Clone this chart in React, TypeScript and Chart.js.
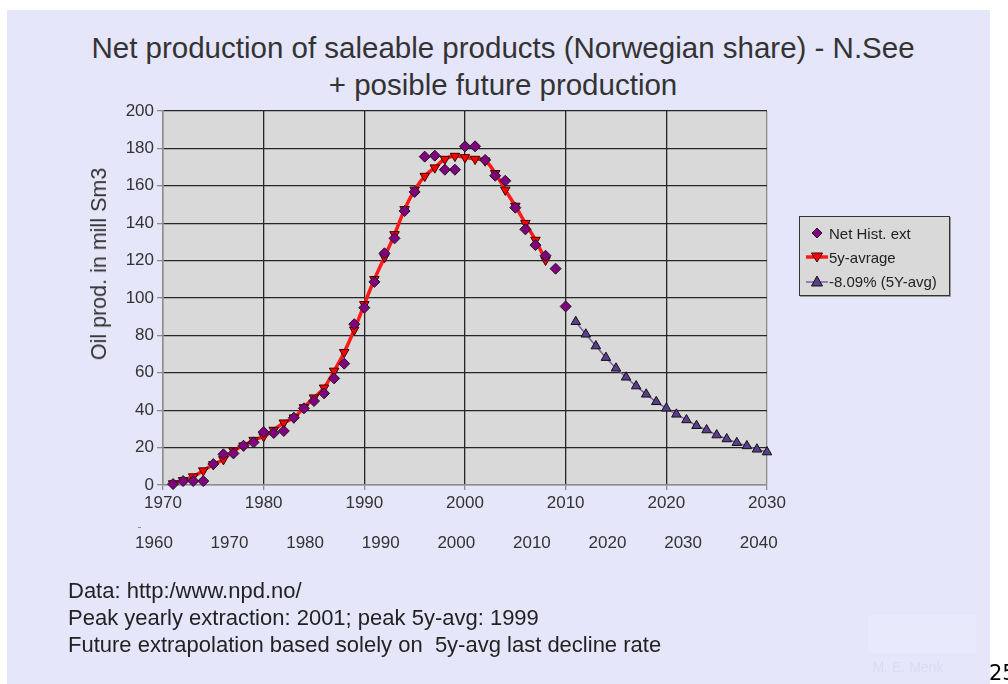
import React, { useEffect, useRef } from "react";
import { Chart, registerables } from "chart.js";

Chart.register(...registerables);

// ---------- data ----------
const histYears = [
  1971, 1972, 1973, 1974, 1975, 1976, 1977, 1978, 1979, 1980,
  1981, 1982, 1983, 1984, 1985, 1986, 1987, 1988, 1989, 1990,
  1991, 1992, 1993, 1994, 1995, 1996, 1997, 1998, 1999, 2000,
  2001, 2002, 2003, 2004, 2005, 2006, 2007, 2008, 2009, 2010,
];
const histValues = [
  0.5, 2.1, 2.1, 2.1, 11.2, 16.4, 16.9, 21, 22.8, 28.3,
  27.8, 28.9, 36, 41, 44.9, 49, 57, 64.9, 86, 94.8,
  108.6, 123.9, 131.9, 146.5, 156.7, 175.6, 176.1, 168.6, 168.6, 181.1,
  181.1, 173.8, 165.4, 162.7, 148.3, 136.7, 128.3, 122.6, 115.7, 95.5,
];

const avgYears = [
  1971, 1972, 1973, 1974, 1975, 1976, 1977, 1978, 1979, 1980,
  1981, 1982, 1983, 1984, 1985, 1986, 1987, 1988, 1989, 1990,
  1991, 1992, 1993, 1994, 1995, 1996, 1997, 1998, 1999, 2000,
  2001, 2002, 2003, 2004, 2005, 2006, 2007, 2008,
];
const avgValues = [
  0.8, 2.5, 4.5, 7.7, 11, 13.7, 18.4, 21, 24, 26,
  29.4, 33.3, 36, 41.5, 46.7, 52, 61, 71, 83, 96.6,
  110, 121.8, 134, 147.4, 157.8, 165.2, 169.7, 174.3, 175.9, 175.2,
  174.3, 173.4, 166.7, 157.8, 149.2, 140, 131, 120.3,
];

const futureYears = [
  2011, 2012, 2013, 2014, 2015, 2016, 2017, 2018, 2019, 2020,
  2021, 2022, 2023, 2024, 2025, 2026, 2027, 2028, 2029, 2030,
];
const futureValues = [
  87.3, 80.6, 74.3, 68.1, 62.4, 57.6, 52.9, 48.5, 44.5, 41,
  37.8, 34.8, 31.7, 29.4, 26.7, 24.6, 22.6, 20.9, 19.1, 17.6,
];

const xTicksMain = [1970, 1980, 1990, 2000, 2010, 2020, 2030];
const xTicksSecond = [1960, 1970, 1980, 1990, 2000, 2010, 2020, 2030, 2040];
const yTicks = [0, 20, 40, 60, 80, 100, 120, 140, 160, 180, 200];

const seriesLabels = ["Net Hist. ext", "5y-avrage", "-8.09% (5Y-avg)"];
const titleLines = [
  "Net production of saleable products (Norwegian share) - N.See",
  "+ posible future production",
];
const yTitle = "Oil prod. in mill Sm3";
const notes = [
  "Data: http:/www.npd.no/",
  "Peak yearly extraction: 2001; peak 5y-avg: 1999",
  "Future extrapolation based solely on  5y-avg last decline rate",
];

const FONT = "'Liberation Sans', Arial, Helvetica, sans-serif";
const GRID_DARK = "#262626";
const AXIS_GRAY = "#8c8c8c";

const plotBg = {
  id: "plotBg",
  beforeDraw(chart: any) {
    const { ctx, chartArea: a } = chart;
    ctx.save();
    ctx.fillStyle = "#d9d9d9";
    ctx.fillRect(a.left, a.top, a.right - a.left, a.bottom - a.top);
    ctx.restore();
  },
};

const toPts = (xs: number[], ys: number[]) => xs.map((x, i) => ({ x, y: ys[i] }));

function ChartCanvas() {
  const ref = useRef<HTMLCanvasElement | null>(null);
  useEffect(() => {
    if (!ref.current) return;
    const chart = new Chart(ref.current, {
      type: "line",
      data: {
        datasets: [
          {
            label: seriesLabels[0],
            data: toPts(histYears, histValues),
            showLine: false,
            pointStyle: "rectRot",
            pointRadius: 5.5,
            pointBackgroundColor: "#800080",
            pointBorderColor: "#1a1a1a",
            pointBorderWidth: 1,
            clip: false,
          },
          {
            label: seriesLabels[1],
            data: toPts(avgYears, avgValues),
            borderColor: "#ff1a1a",
            borderWidth: 3.5,
            tension: 0.4,
            pointStyle: "triangle",
            pointRotation: 180,
            pointRadius: 5.5,
            pointBackgroundColor: "#ff0000",
            pointBorderColor: "#3a0000",
            pointBorderWidth: 1,
            clip: false,
          },
          {
            label: seriesLabels[2],
            data: toPts(futureYears, futureValues),
            borderColor: "#7b62a6",
            borderWidth: 1.5,
            pointStyle: "triangle",
            pointRadius: 5.5,
            pointBackgroundColor: "#5a3e8c",
            pointBorderColor: "#111111",
            pointBorderWidth: 1,
            clip: false,
          },
        ] as any,
      },
      options: {
        animation: false,
        responsive: false,
        devicePixelRatio: 1,
        layout: { padding: { left: 0, right: 241, top: 111, bottom: 124 } },
        plugins: {
          legend: { display: false },
          tooltip: { enabled: false },
          title: { display: false },
        },
        scales: {
          x: {
            type: "linear",
            position: "bottom",
            min: 1970,
            max: 2030,
            afterBuildTicks: (s: any) => {
              s.ticks = xTicksMain.map((v) => ({ value: v }));
            },
            afterFit: (s: any) => {
              s.height = 30;
            },
            grid: {
              color: (c: any) =>
                c.tick && (c.tick.value === 1970 || c.tick.value === 2030) ? AXIS_GRAY : GRID_DARK,
              lineWidth: 1.3,
              drawTicks: true,
              tickLength: 5,
              tickColor: AXIS_GRAY,
            },
            border: { color: AXIS_GRAY, width: 1.5 },
            ticks: {
              font: { family: FONT, size: 17 },
              color: "#333333",
              padding: 3,
              maxRotation: 0,
              autoSkip: false,
              callback: (v: any) => String(v),
            },
          },
          x2: {
            type: "linear",
            position: "bottom",
            min: 1961.2,
            max: 2041.1,
            afterBuildTicks: (s: any) => {
              s.ticks = xTicksSecond.map((v) => ({ value: v }));
            },
            afterFit: (s: any) => {
              s.height = 45;
            },
            grid: { display: false, drawTicks: false },
            border: { display: false },
            ticks: {
              font: { family: FONT, size: 17 },
              color: "#333333",
              padding: 18,
              maxRotation: 0,
              autoSkip: false,
              callback: (v: any) => String(v),
            },
          },
          y: {
            type: "linear",
            min: 0,
            max: 200,
            afterBuildTicks: (s: any) => {
              s.ticks = yTicks.map((v) => ({ value: v }));
            },
            afterFit: (s: any) => {
              s.width = 163;
            },
            grid: {
              color: (c: any) => (c.tick && c.tick.value === 0 ? AXIS_GRAY : GRID_DARK),
              lineWidth: 1.3,
              drawTicks: true,
              tickLength: 6,
              tickColor: AXIS_GRAY,
            },
            border: { color: AXIS_GRAY, width: 1.5 },
            ticks: {
              font: { family: FONT, size: 17 },
              color: "#333333",
              padding: 3,
              autoSkip: false,
              callback: (v: any) => String(v),
            },
          },
        },
      } as any,
      plugins: [plotBg],
    });
    return () => chart.destroy();
  }, []);
  return (
    <canvas
      ref={ref}
      width={1008}
      height={684}
      style={{ position: "absolute", left: 0, top: 0, width: 1008, height: 684 }}
    />
  );
}

function LegendMarker({ kind }: { kind: number }) {
  if (kind === 0) {
    return (
      <svg width={22} height={14} style={{ display: "block" }}>
        <polygon points="11,2 16,7 11,12 6,7" fill="#800080" stroke="#1a1a1a" strokeWidth={1} />
      </svg>
    );
  }
  if (kind === 1) {
    return (
      <svg width={22} height={14} style={{ display: "block" }}>
        <line x1={0} y1={7} x2={22} y2={7} stroke="#ff1a1a" strokeWidth={3.5} />
        <polygon points="5.5,3 16.5,3 11,12" fill="#ff0000" stroke="#3a0000" strokeWidth={1} />
      </svg>
    );
  }
  return (
    <svg width={22} height={14} style={{ display: "block" }}>
      <line x1={0} y1={8} x2={22} y2={8} stroke="#7b62a6" strokeWidth={1.5} />
      <polygon points="11,2 16.5,12 5.5,12" fill="#5a3e8c" stroke="#111" strokeWidth={1} />
    </svg>
  );
}

export default function App() {
  return (
    <div
      style={{
        position: "absolute",
        left: 0,
        top: 0,
        width: 1008,
        height: 684,
        overflow: "hidden",
        background: "#ffffff",
        fontFamily: FONT,
      }}
    >
      <div
        style={{
          position: "absolute",
          left: 7,
          top: 10,
          width: 983,
          height: 674,
          background: "#e6e6fa",
        }}
      />
      {/* title */}
      <div
        style={{
          position: "absolute",
          left: 0,
          top: 29,
          width: 1006,
          textAlign: "center",
          fontSize: 29.5,
          lineHeight: "37px",
          color: "#333333",
          whiteSpace: "nowrap",
        }}
      >
        {titleLines.map((t, i) => (
          <div key={i}>{t}</div>
        ))}
      </div>
      <ChartCanvas />
      {/* small dash above the secondary axis */}
      <div
        style={{
          position: "absolute",
          left: 138,
          top: 527,
          width: 3,
          height: 1,
          background: "#8c8c8c",
        }}
      />
      {/* y axis title */}
      <div
        style={{
          position: "absolute",
          left: 99,
          top: 264,
          width: 0,
          height: 0,
        }}
      >
        <div
          style={{
            position: "absolute",
            left: 0,
            top: 0,
            transform: "translate(-50%, -50%) rotate(-90deg)",
            fontSize: 21.5,
            lineHeight: "26px",
            color: "#333333",
            whiteSpace: "nowrap",
          }}
        >
          {yTitle}
        </div>
      </div>
      {/* legend */}
      <div
        style={{
          position: "absolute",
          left: 799,
          top: 216,
          width: 149,
          height: 78,
          background: "#d9d9d9",
          border: "1.5px solid #333333",
          boxShadow: "1px 1px 0 #999",
        }}
      >
        {seriesLabels.map((lab, i) => (
          <div
            key={i}
            style={{
              position: "absolute",
              left: 6,
              top: 7 + i * 24,
              display: "flex",
              alignItems: "center",
              height: 18,
              fontSize: 15,
              color: "#222222",
              whiteSpace: "nowrap",
            }}
          >
            <LegendMarker kind={i} />
            <span style={{ marginLeft: 1 }}>{lab}</span>
          </div>
        ))}
      </div>
      {/* notes */}
      <div
        style={{
          position: "absolute",
          left: 68,
          top: 577,
          fontSize: 22,
          lineHeight: "27px",
          color: "#222222",
          whiteSpace: "nowrap",
        }}
      >
        {notes.map((t, i) => (
          <div key={i} style={{ whiteSpace: "pre" }}>
            {t}
          </div>
        ))}
      </div>
      {/* faint licence badge */}
      <div
        style={{
          position: "absolute",
          left: 868,
          top: 615,
          width: 108,
          height: 38,
          background: "#e9e9fc",
          borderRadius: 3,
        }}
      />
      <div
        style={{
          position: "absolute",
          left: 868,
          top: 659,
          width: 80,
          textAlign: "center",
          fontSize: 14,
          color: "#dadaf2",
        }}
      >
        M. E. Menk
      </div>
      <div
        style={{
          position: "absolute",
          left: 989,
          top: 661,
          fontSize: 21,
          lineHeight: "24px",
          color: "#000000",
          fontFamily: "'DejaVu Sans', sans-serif",
          whiteSpace: "nowrap",
        }}
      >
        25
      </div>
    </div>
  );
}
